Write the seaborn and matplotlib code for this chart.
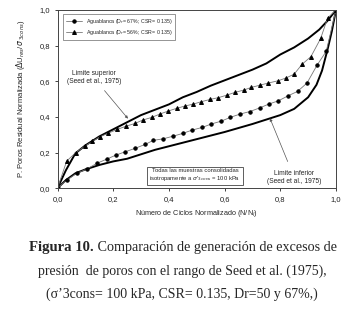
import numpy as np
import pandas as pd
import matplotlib
matplotlib.use("Agg")
import matplotlib.pyplot as plt
import seaborn as sns

# -----------------------------
# DATA
# -----------------------------
# Aguablanca Dr = 67% (circles)
dr67_x = [0.0, 0.033, 0.069, 0.105, 0.141, 0.177, 0.209, 0.243, 0.278, 0.314, 0.344,
          0.38, 0.416, 0.449, 0.484, 0.52, 0.552, 0.588, 0.62, 0.656, 0.691,
          0.727, 0.759, 0.793, 0.829, 0.862, 0.896, 0.932, 0.965, 1.0]
dr67_y = [0.0, 0.045, 0.083, 0.107, 0.139, 0.163, 0.185, 0.204, 0.223, 0.245, 0.268,
          0.277, 0.292, 0.307, 0.326, 0.341, 0.36, 0.376, 0.397, 0.416, 0.43,
          0.451, 0.472, 0.49, 0.519, 0.543, 0.59, 0.69, 0.768, 1.0]

# Aguablanca Dr = 56% (triangles)
dr56_x = [0.0, 0.033, 0.066, 0.099, 0.125, 0.152, 0.18, 0.215, 0.245, 0.278, 0.306,
          0.338, 0.368, 0.398, 0.428, 0.458, 0.488, 0.516, 0.548, 0.578, 0.608,
          0.638, 0.668, 0.695, 0.727, 0.757, 0.793, 0.82, 0.85, 0.878, 0.91,
          0.945, 0.97, 1.0]
dr56_y = [0.0, 0.152, 0.2, 0.236, 0.262, 0.288, 0.307, 0.33, 0.347, 0.363, 0.382,
          0.397, 0.416, 0.433, 0.448, 0.461, 0.472, 0.485, 0.498, 0.508, 0.522,
          0.538, 0.55, 0.565, 0.578, 0.59, 0.603, 0.618, 0.64, 0.695, 0.738,
          0.84, 0.955, 1.0]

# Seed et al. (1975) limits
sup_x = [0.0, 0.03, 0.064, 0.1, 0.15, 0.2, 0.25, 0.3, 0.35, 0.4, 0.45, 0.5, 0.55,
         0.6, 0.65, 0.7, 0.75, 0.8, 0.85, 0.9, 0.94, 0.97, 1.0]
sup_y = [0.0, 0.10, 0.195, 0.24, 0.29, 0.33, 0.37, 0.41, 0.44, 0.47, 0.51, 0.54, 0.575,
         0.605, 0.635, 0.665, 0.70, 0.75, 0.79, 0.84, 0.89, 0.94, 1.0]
inf_x = [0.0, 0.03, 0.064, 0.1, 0.15, 0.2, 0.25, 0.3, 0.35, 0.4, 0.5, 0.6, 0.7,
         0.75, 0.8, 0.85, 0.9, 0.93, 0.95, 0.97, 0.985, 1.0]
inf_y = [0.0, 0.045, 0.083, 0.105, 0.13, 0.15, 0.165, 0.19, 0.215, 0.235, 0.275,
         0.315, 0.36, 0.385, 0.41, 0.445, 0.51, 0.58, 0.66, 0.78, 0.88, 1.0]

ticks = [0.0, 0.2, 0.4, 0.6, 0.8, 1.0]
tick_labels = ["0,0", "0,2", "0,4", "0,6", "0,8", "1,0"]

# -----------------------------
# PLOT
# -----------------------------
sns.set_style("ticks")
plt.rcParams["font.family"] = ["Liberation Sans", "DejaVu Sans"]

fig = plt.figure(figsize=(3.64, 3.12), dpi=100)
ax = fig.add_axes([0.158, 0.397, 0.765, 0.571])

sns.lineplot(x=sup_x, y=sup_y, ax=ax, color="black", lw=1.4, sort=False)
sns.lineplot(x=inf_x, y=inf_y, ax=ax, color="black", lw=1.4, sort=False)
sns.lineplot(x=dr67_x, y=dr67_y, ax=ax, color="#777777", lw=0.6, marker="o",
             markersize=2.4, markerfacecolor="black", markeredgecolor="black",
             sort=False, label="Aguablanca (D$_r$= 67%; CSR= 0.135)")
sns.lineplot(x=dr56_x, y=dr56_y, ax=ax, color="#777777", lw=0.6, marker="^",
             markersize=2.8, markerfacecolor="black", markeredgecolor="black",
             sort=False, label="Aguablanca (D$_r$= 56%; CSR= 0.135)")

ax.set_xlim(0, 1)
ax.set_ylim(0, 1)
ax.set_xticks(ticks)
ax.set_yticks(ticks)
ax.set_xticklabels(tick_labels)
ax.set_yticklabels(tick_labels)
ax.tick_params(labelsize=5.5, length=2.5, width=0.6, pad=3, colors="#222222")
for s in ax.spines.values():
    s.set_linewidth(0.7)
    s.set_color("#444444")

ax.set_xlabel("Número de Ciclos Normalizado (N/N$_l$)", fontsize=5.2, labelpad=4)
ax.set_ylabel("P. Poros Residual Normalizada ($\\Delta$U$_{res}$/$\\sigma$'$_{3cons}$)",
              fontsize=5.5, labelpad=9)

leg = ax.legend(loc="upper left", fontsize=3.8, frameon=True, fancybox=False,
                edgecolor="#444444", borderpad=0.5, labelspacing=0.4, handlelength=3,
                bbox_to_anchor=(0.012, 0.99))
leg.get_frame().set_linewidth(0.5)

ax.annotate("Limite superior\n(Seed et al., 1975)", xy=(0.253, 0.39), xytext=(0.13, 0.62),
            fontsize=4.8, ha="center", va="center",
            arrowprops=dict(arrowstyle="-|>", color="#555555", lw=0.5,
                            mutation_scale=4, shrinkA=2, shrinkB=0))
ax.annotate("Limite inferior\n(Seed et al., 1975)", xy=(0.763, 0.392), xytext=(0.85, 0.06),
            fontsize=4.8, ha="center", va="center",
            arrowprops=dict(arrowstyle="-|>", color="#555555", lw=0.5,
                            mutation_scale=4, shrinkA=4, shrinkB=0))
ax.text(0.494, 0.072,
        "Todas las muestras consolidadas\nisotropamente a $\\sigma$'$_{3cons}$ = 100 kPa",
        fontsize=4.2, ha="center", va="center",
        bbox=dict(boxstyle="square,pad=0.4", fc="white", ec="#444444", lw=0.6))

# caption
serif = ["Liberation Serif", "DejaVu Serif"]
t1 = fig.text(0.08, 0.208, "Figura 10.", fontweight="bold", family=serif,
              fontsize=10.6, va="center")
ax.annotate(" Comparación de generación de excesos de", xy=(1, 0.5), xycoords=t1,
            va="center", ha="left", family=serif, fontsize=10.2,
            annotation_clip=False)
fig.text(0.5, 0.129, "presión  de poros con el rango de Seed et al. (1975),",
         ha="center", va="center", family=serif, fontsize=10)
fig.text(0.5, 0.058, "(σ’3cons= 100 kPa, CSR= 0.135, Dr=50 y 67%,)",
         ha="center", va="center", family=serif, fontsize=10)

fig.savefig("out.png", dpi=100)
